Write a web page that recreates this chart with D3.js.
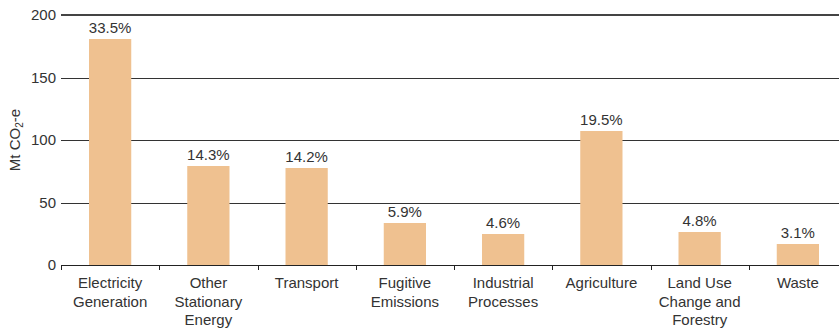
<!DOCTYPE html>
<html><head><meta charset="utf-8">
<script src="https://cdn.jsdelivr.net/npm/d3@7"></script>
<style>body{margin:0;background:#fff}svg{display:block}</style>
</head><body>
<script>
const categories = [
  ["Electricity","Generation"],
  ["Other","Stationary","Energy"],
  ["Transport"],
  ["Fugitive","Emissions"],
  ["Industrial","Processes"],
  ["Agriculture"],
  ["Land Use","Change and","Forestry"],
  ["Waste"]
];
const values = [180.8, 79.2, 77.6, 33.6, 24.8, 107.2, 26.4, 16.8];
const percentLabels = ["33.5%","14.3%","14.2%","5.9%","4.6%","19.5%","4.8%","3.1%"];
const yTicks = [0, 50, 100, 150, 200];

const W = 839, H = 331;
const svg = d3.select("body").append("svg").attr("width", W).attr("height", H);
const font = "'Liberation Sans', Arial, Helvetica, sans-serif";
const txt = "#333";
const fs = 15;

const x = d3.scaleBand().domain(d3.range(categories.length)).range([61, 847])
  .paddingInner(0.57).paddingOuter(0.285);
const y = d3.scaleLinear().domain([0, 200]).range([265, 15]);

// gridlines
svg.append("g").selectAll("line").data(yTicks.filter(d => d > 0)).join("line")
  .attr("x1", 61).attr("x2", W)
  .attr("y1", d => Math.round(y(d)) + (d === 200 ? 0 : 0.5))
  .attr("y2", d => Math.round(y(d)) + (d === 200 ? 0 : 0.5))
  .attr("stroke", d => d === 200 ? "#444" : "#333")
  .attr("stroke-width", d => d === 200 ? 2 : 1);

// y labels
svg.append("g").selectAll("text").data(yTicks).join("text")
  .attr("x", 56).attr("y", d => y(d)).attr("dy", "0.35em")
  .attr("text-anchor", "end").attr("font-family", font).attr("font-size", fs)
  .attr("fill", txt).text(d => d);

// bars
svg.append("g").selectAll("rect").data(values).join("rect")
  .attr("x", (d, i) => x(i)).attr("width", x.bandwidth())
  .attr("y", d => y(d)).attr("height", d => y(0) - y(d))
  .attr("fill", "#efc190");

// value labels
svg.append("g").selectAll("text").data(values).join("text")
  .attr("x", (d, i) => x(i) + x.bandwidth() / 2)
  .attr("y", d => y(d) - 6)
  .attr("text-anchor", "middle").attr("font-family", font).attr("font-size", fs)
  .attr("fill", txt).text((d, i) => percentLabels[i]);

// x axis line and ticks
const step = x.step();
svg.append("line").attr("x1", 61).attr("x2", W).attr("y1", 265.5).attr("y2", 265.5)
  .attr("stroke", "#222").attr("stroke-width", 1);
svg.append("g").selectAll("line").data(d3.range(categories.length)).join("line")
  .attr("x1", i => Math.round(x(i) - x.paddingOuter() * step) + 0.5)
  .attr("x2", i => Math.round(x(i) - x.paddingOuter() * step) + 0.5)
  .attr("y1", 265).attr("y2", 270).attr("stroke", "#222").attr("stroke-width", 1);

// category labels
const cl = svg.append("g").selectAll("text").data(categories).join("text")
  .attr("text-anchor", "middle").attr("font-family", font).attr("font-size", fs)
  .attr("fill", txt)
  .attr("transform", (d, i) => `translate(${x(i) + x.bandwidth() / 2},288)`);
cl.selectAll("tspan").data(d => d).join("tspan")
  .attr("x", 0).attr("y", (d, j) => j * 18.5).text(d => d);

// y axis title
const t = svg.append("text").attr("transform", "translate(20,140) rotate(-90)")
  .attr("text-anchor", "middle").attr("font-family", font).attr("font-size", fs)
  .attr("fill", txt);
t.append("tspan").text("Mt CO");
t.append("tspan").attr("font-size", 10).attr("dy", 3).text("2");
t.append("tspan").attr("dy", -3).text("-e");
</script>
</body></html>
